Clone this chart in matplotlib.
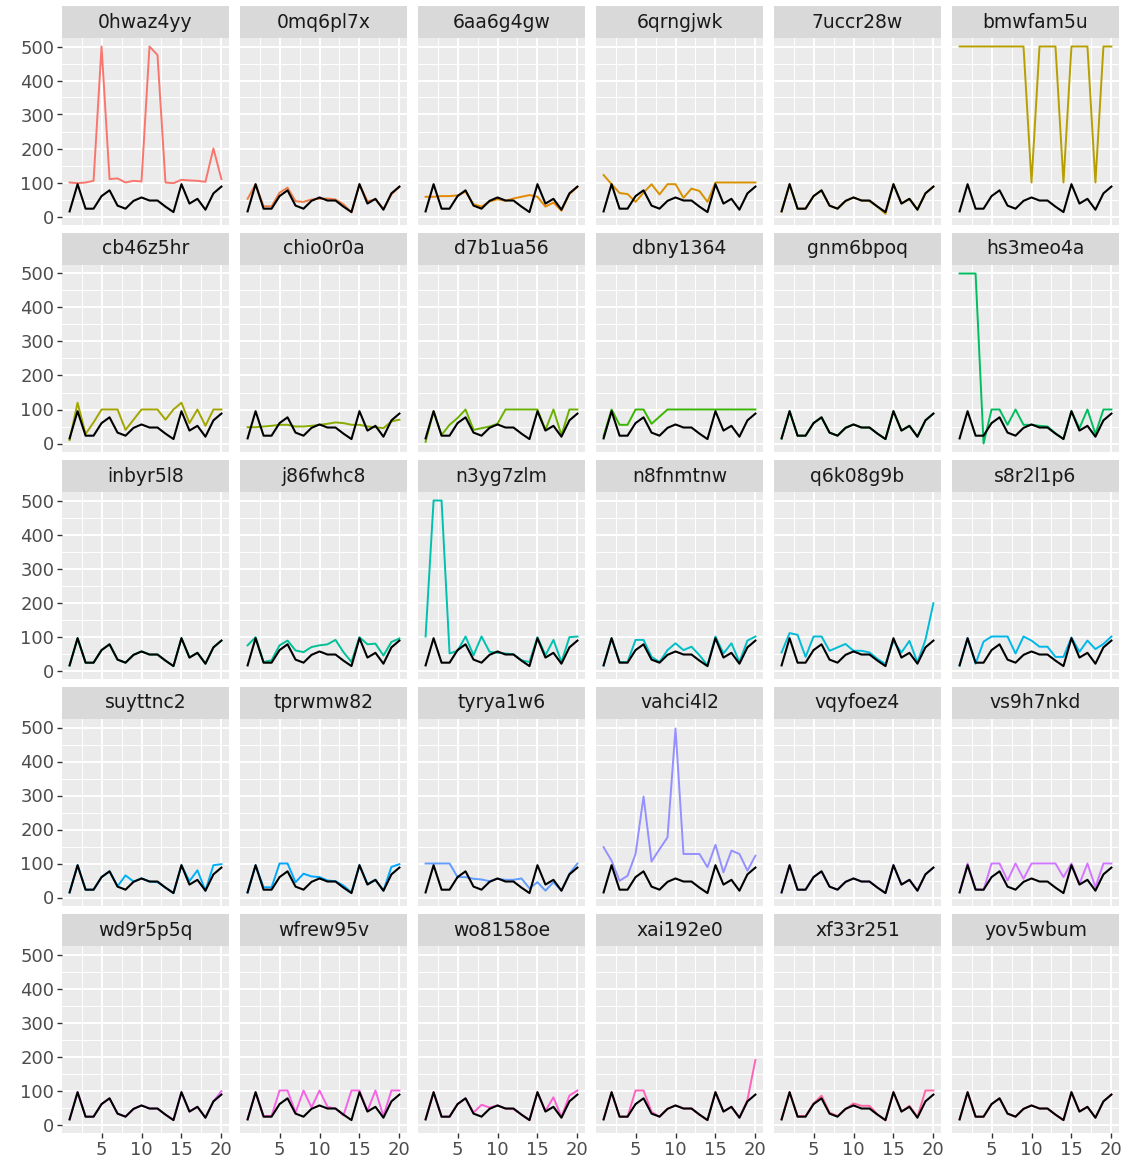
import math
import matplotlib
matplotlib.use("Agg")
import matplotlib.pyplot as plt

# ---------------- data ----------------
x = list(range(1, 21))
panel_names = ["0hwaz4yy", "0mq6pl7x", "6aa6g4gw", "6qrngjwk", "7uccr28w", "bmwfam5u",
               "cb46z5hr", "chio0r0a", "d7b1ua56", "dbny1364", "gnm6bpoq", "hs3meo4a",
               "inbyr5l8", "j86fwhc8", "n3yg7zlm", "n8fnmtnw", "q6k08g9b", "s8r2l1p6",
               "suyttnc2", "tprwmw82", "tyrya1w6", "vahci4l2", "vqyfoez4", "vs9h7nkd",
               "wd9r5p5q", "wfrew95v", "wo8158oe", "xai192e0", "xf33r251", "yov5wbum"]

reference = [15, 95, 23, 23, 60, 77, 32, 23, 46, 56, 47, 47, 29, 13, 95, 38, 52, 20, 68, 88]

s_0hwaz4yy = [100, 98, 100, 105, 500, 110, 112, 100, 105, 103, 500, 475, 100, 98, 108, 106, 105, 102, 200, 110]
s_0mq6pl7x = [52, 95, 30, 30, 70, 85, 45, 43, 50, 52, 53, 50, 36, 12, 95, 45, 50, 22, 65, 87]
s_6aa6g4gw = [58, 58, 60, 60, 62, 73, 36, 29, 44, 51, 46, 53, 58, 63, 58, 29, 41, 17, 66, 87]
s_6qrngjwk = [122, 95, 69, 66, 43, 70, 95, 65, 95, 95, 55, 82, 75, 43, 100, 100, 100, 100, 100, 100]
s_7uccr28w = [15, 95, 23, 23, 60, 77, 32, 23, 45, 56, 47, 45, 29, 8, 95, 38, 52, 20, 68, 88]
s_bmwfam5u = [500, 500, 500, 500, 500, 500, 500, 500, 500, 100, 500, 500, 500, 100, 500, 500, 500, 100, 500, 500]
s_cb46z5hr = [10, 120, 28, 62, 100, 100, 100, 40, 70, 100, 100, 100, 70, 100, 120, 60, 100, 52, 100, 100]
s_chio0r0a = [48, 48, 50, 52, 55, 55, 50, 50, 52, 55, 58, 62, 60, 55, 55, 50, 48, 45, 65, 70]
s_d7b1ua56 = [5, 95, 25, 55, 75, 100, 40, 45, 50, 58, 100, 100, 100, 100, 100, 40, 100, 25, 100, 100]
s_dbny1364 = [22, 100, 55, 55, 100, 100, 58, 79, 100, 100, 100, 100, 100, 100, 100, 100, 100, 100, 100, 100]
s_gnm6bpoq = [15, 95, 23, 23, 60, 77, 32, 23, 46, 56, 47, 47, 29, 13, 95, 38, 52, 20, 68, 88]
s_hs3meo4a = [500, 500, 500, 0, 100, 100, 55, 100, 55, 55, 52, 50, 30, 14, 95, 45, 100, 28, 100, 100]
s_inbyr5l8 = [15, 95, 23, 23, 60, 77, 32, 23, 46, 56, 47, 47, 29, 13, 95, 38, 52, 20, 68, 88]
s_j86fwhc8 = [74, 98, 25, 30, 74, 88, 59, 54, 69, 74, 77, 90, 54, 25, 98, 77, 79, 44, 84, 94]
s_n3yg7zlm = [100, 500, 500, 50, 58, 100, 45, 100, 55, 52, 50, 48, 30, 25, 98, 45, 90, 25, 98, 100]
s_n8fnmtnw = [15, 95, 25, 25, 90, 90, 40, 25, 60, 80, 60, 70, 45, 15, 100, 50, 80, 25, 88, 100]
s_q6k08g9b = [53, 110, 105, 40, 100, 100, 58, 68, 78, 58, 58, 53, 34, 19, 87, 53, 87, 24, 90, 198]
s_s8r2l1p6 = [15, 95, 20, 85, 100, 100, 100, 50, 100, 88, 70, 70, 40, 40, 97, 55, 88, 63, 78, 100]
s_suyttnc2 = [15, 95, 23, 23, 60, 77, 33, 65, 47, 56, 47, 45, 29, 13, 95, 48, 80, 20, 95, 98]
s_tprwmw82 = [15, 95, 30, 30, 100, 100, 45, 70, 62, 60, 50, 48, 35, 15, 95, 40, 52, 20, 90, 98]
s_tyrya1w6 = [100, 100, 100, 100, 60, 60, 55, 53, 48, 55, 52, 52, 56, 27, 45, 20, 45, 20, 70, 100]
s_vahci4l2 = [148, 108, 49, 64, 128, 297, 106, 142, 177, 497, 128, 128, 128, 89, 155, 74, 138, 128, 79, 123]
s_vqyfoez4 = [15, 95, 23, 23, 60, 77, 32, 23, 46, 56, 47, 47, 29, 13, 95, 38, 52, 20, 68, 88]
s_vs9h7nkd = [15, 100, 25, 22, 100, 100, 50, 100, 55, 100, 100, 100, 100, 60, 100, 40, 100, 30, 100, 100]
s_wd9r5p5q = [15, 95, 23, 23, 60, 77, 32, 23, 46, 56, 47, 47, 29, 13, 95, 38, 52, 20, 68, 98]
s_wfrew95v = [15, 95, 25, 25, 100, 100, 35, 100, 50, 100, 52, 47, 27, 100, 100, 40, 100, 25, 100, 100]
s_wo8158oe = [15, 95, 23, 23, 60, 77, 35, 58, 50, 56, 47, 45, 29, 13, 95, 40, 80, 22, 85, 100]
s_xai192e0 = [15, 95, 23, 23, 100, 100, 37, 23, 46, 56, 47, 47, 29, 13, 95, 38, 52, 20, 72, 190]
s_xf33r251 = [15, 95, 25, 25, 62, 85, 35, 25, 45, 62, 55, 55, 30, 12, 95, 38, 55, 22, 100, 100]
s_yov5wbum = [15, 95, 23, 23, 60, 77, 32, 23, 46, 56, 47, 47, 29, 13, 95, 38, 52, 20, 68, 88]

series = [s_0hwaz4yy, s_0mq6pl7x, s_6aa6g4gw, s_6qrngjwk, s_7uccr28w, s_bmwfam5u,
          s_cb46z5hr, s_chio0r0a, s_d7b1ua56, s_dbny1364, s_gnm6bpoq, s_hs3meo4a,
          s_inbyr5l8, s_j86fwhc8, s_n3yg7zlm, s_n8fnmtnw, s_q6k08g9b, s_s8r2l1p6,
          s_suyttnc2, s_tprwmw82, s_tyrya1w6, s_vahci4l2, s_vqyfoez4, s_vs9h7nkd,
          s_wd9r5p5q, s_wfrew95v, s_wo8158oe, s_xai192e0, s_xf33r251, s_yov5wbum]

x_ticks = [5, 10, 15, 20]
y_ticks = [0, 100, 200, 300, 400, 500]


# ---------------- ggplot hue palette ----------------
def hcl_hex(h, c=100, l=65):
    hr = math.radians(h)
    U, V = c * math.cos(hr), c * math.sin(hr)
    Y = 100 * ((l + 16) / 116) ** 3 if l > 7.999592 else 100 * l / 903.3
    u = U / (13 * l) + 0.1978398
    v = V / (13 * l) + 0.4683363
    X = 9.0 * Y * u / (4 * v)
    Z = -X / 3 - 5 * Y + 3 * Y / v

    def g(t):
        t = 1.055 * t ** (1 / 2.4) - 0.055 if t > 0.00304 else 12.92 * t
        return min(max(t, 0.0), 1.0)
    r = g((3.240479 * X - 1.537150 * Y - 0.498535 * Z) / 100)
    gg = g((-0.969256 * X + 1.875992 * Y + 0.041556 * Z) / 100)
    b = g((0.055648 * X - 0.204043 * Y + 1.057311 * Z) / 100)
    return (r, gg, b)


n = len(panel_names)
hues = [15 + i * (360 - 360 / n) / (n - 1) for i in range(n)]
colors = [hcl_hex(h) for h in hues]

# ---------------- layout ----------------
W, H = 1126, 1159
fig = plt.figure(figsize=(W / 100, H / 100), dpi=100)
fig.patch.set_facecolor("white")

pw, gap_x = 167, 11
strip_h, ph, row_pitch = 32, 187, 227
left0, top0 = 62, 6

font = "DejaVu Sans"


def fa(lx, ty, w, h):
    return [lx / W, 1 - (ty + h) / H, w / W, h / H]


for k, name in enumerate(panel_names):
    r, c = divmod(k, 6)
    lx = left0 + c * (pw + gap_x)
    st = top0 + r * row_pitch
    # strip
    sax = fig.add_axes(fa(lx, st, pw, strip_h))
    sax.set_facecolor("#D9D9D9")
    sax.set_xticks([]); sax.set_yticks([])
    for sp in sax.spines.values():
        sp.set_visible(False)
    sax.text(0.5, 0.5, name, ha="center", va="center", fontsize=13.5,
             color="#1A1A1A", family=font, transform=sax.transAxes)
    # panel
    ax = fig.add_axes(fa(lx, st + strip_h, pw, ph))
    ax.set_facecolor("#EBEBEB")
    ax.set_xlim(0.05, 20.95)
    ax.set_ylim(-25, 525)
    ax.set_xticks(x_ticks)
    ax.set_yticks(y_ticks)
    ax.set_xticks([2.5, 7.5, 12.5, 17.5], minor=True)
    ax.set_yticks([50, 150, 250, 350, 450], minor=True)
    ax.grid(True, which="major", color="white", linewidth=1.4)
    ax.grid(True, which="minor", color="white", linewidth=0.7)
    ax.set_axisbelow(True)
    for sp in ax.spines.values():
        sp.set_visible(False)
    ax.tick_params(which="minor", length=0)
    ax.tick_params(which="major", length=3.5, width=1.0, color="#333333",
                   labelsize=13, labelcolor="#4D4D4D", pad=2)
    if c != 0:
        ax.tick_params(axis="y", which="major", length=0, labelleft=False)
    if r != 4:
        ax.tick_params(axis="x", which="major", length=0, labelbottom=False)
    for lab in ax.get_xticklabels() + ax.get_yticklabels():
        lab.set_family(font)

    ax.plot(x, series[k], color=colors[k], linewidth=1.4, zorder=3)
    ax.plot(x, reference, color="black", linewidth=1.5, zorder=4)

fig.savefig("out.png", dpi=100, facecolor="white")
